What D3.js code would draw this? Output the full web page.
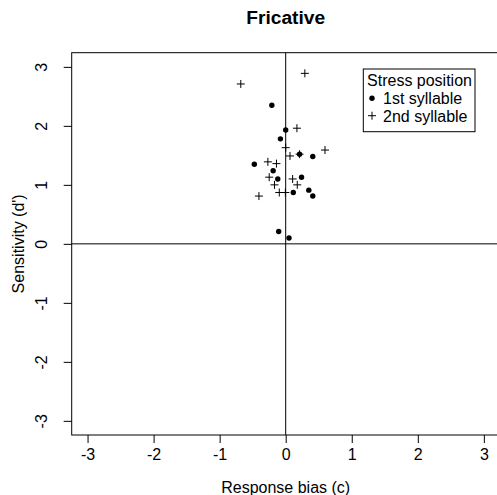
<!DOCTYPE html>
<html><head><meta charset="utf-8">
<script src="https://cdn.jsdelivr.net/npm/d3@7"></script>
<style>body{margin:0;background:#fff}text{font-family:"Liberation Sans",Arial,sans-serif}</style>
</head><body><svg id="c" width="497" height="495"></svg>
<script>
const title = "Fricative";
const xLabel = "Response bias (c)";
const yLabel = "Sensitivity (d')";
const ticks = [-3,-2,-1,0,1,2,3];
const tickLabels = ["-3","-2","-1","0","1","2","3"];
const legendTitle = "Stress position";
const seriesNames = ["1st syllable","2nd syllable"];
// 1st syllable (filled dots)
const firstC  = [-0.21, 0.00, -0.08, 0.21, 0.41, -0.475, -0.19, -0.12, 0.24, 0.115, 0.35, 0.41, -0.106, 0.05];
const firstD  = [ 2.35, 1.93,  1.78, 1.52, 1.48,  1.35,   1.24,  1.10, 1.13, 0.87,  0.91, 0.81,  0.21,  0.10];
// 2nd syllable (plus signs)
const secondC = [-0.68, 0.29, 0.17, 0.00, 0.595, 0.065, 0.21, -0.27, -0.14, -0.25, 0.105, -0.17, 0.175, -0.097, -0.005, -0.405];
const secondD = [ 2.71, 2.89, 1.96, 1.63, 1.59,  1.49,  1.52,  1.39,  1.36,  1.13, 1.10,   1.00, 1.00,   0.87,   0.87,  0.81];

const svg = d3.select("#c");
const L = 71.7, R = 499.7, T = 52.7, B = 435;
const FS = 16;
const x = d3.scaleLinear().domain([-3.24, 3.24]).range([L, R]);
const y = d3.scaleLinear().domain([-3.24, 3.24]).range([B, T]);
const lab = d => tickLabels[ticks.indexOf(d)];

// reference lines
svg.append("line").attr("x1", x(0)).attr("x2", x(0)).attr("y1", T).attr("y2", B).attr("stroke", "#000");
svg.append("line").attr("x1", L).attr("x2", R).attr("y1", y(0)).attr("y2", y(0)).attr("stroke", "#000");

// box
svg.append("rect").attr("x", L).attr("y", T).attr("width", R - L).attr("height", B - T)
  .attr("fill", "none").attr("stroke", "#000");

// axes
const xa = svg.append("g").attr("transform", `translate(0,${B})`)
  .call(d3.axisBottom(x).tickValues(ticks).tickSize(8).tickPadding(6).tickFormat(lab));
xa.select(".domain").remove();
xa.selectAll("text").attr("font-size", FS).attr("font-family", "Liberation Sans, Arial").attr("fill", "#000");
const ya = svg.append("g").attr("transform", `translate(${L},0)`)
  .call(d3.axisLeft(y).tickValues(ticks).tickSize(8).tickFormat(lab));
ya.select(".domain").remove();
ya.selectAll("text").remove();
ya.selectAll(".tick").append("text")
  .attr("transform", "translate(-30,0) rotate(-90)")
  .attr("text-anchor", "middle").attr("dy", "0.35em")
  .attr("font-size", FS).attr("fill", "#000")
  .text(lab);

// titles
svg.append("text").attr("x", x(0)).attr("y", 23.5).attr("text-anchor", "middle")
  .attr("font-size", 19.2).attr("font-weight", "bold").text(title);
svg.append("text").attr("x", x(0)).attr("y", 492.5).attr("text-anchor", "middle")
  .attr("font-size", FS).text(xLabel);
svg.append("text").attr("transform", `translate(18,${y(0)}) rotate(-90)`).attr("text-anchor", "middle")
  .attr("dy", "0.35em").attr("font-size", FS).text(yLabel);

// points
const first = firstC.map((c, i) => ({c, d: firstD[i]}));
const second = secondC.map((c, i) => ({c, d: secondD[i]}));
svg.append("g").selectAll("circle").data(first).join("circle")
  .attr("cx", p => x(p.c)).attr("cy", p => y(p.d)).attr("r", 2.7).attr("fill", "#000");
svg.append("g").selectAll("path").data(second).join("path")
  .attr("transform", p => `translate(${x(p.c)},${y(p.d)})`)
  .attr("d", "M-4,0H4M0,-4V4").attr("stroke", "#000").attr("stroke-width", 1).attr("fill", "none");

// legend
const lg = svg.append("g");
lg.append("rect").attr("x", 363.3).attr("y", 69).attr("width", 111.7).attr("height", 62.7)
  .attr("fill", "#fff").attr("stroke", "#000");
lg.append("text").attr("x", 419.5).attr("y", 86).attr("text-anchor", "middle").attr("font-size", FS).text(legendTitle);
lg.append("circle").attr("cx", 372).attr("cy", 98.3).attr("r", 2.7).attr("fill", "#000");
lg.append("text").attr("x", 383).attr("y", 104).attr("font-size", FS).text(seriesNames[0]);
lg.append("path").attr("transform", "translate(372,115.7)").attr("d", "M-4,0H4M0,-4V4").attr("stroke", "#000");
lg.append("text").attr("x", 383).attr("y", 121.5).attr("font-size", FS).text(seriesNames[1]);
</script></body></html>
